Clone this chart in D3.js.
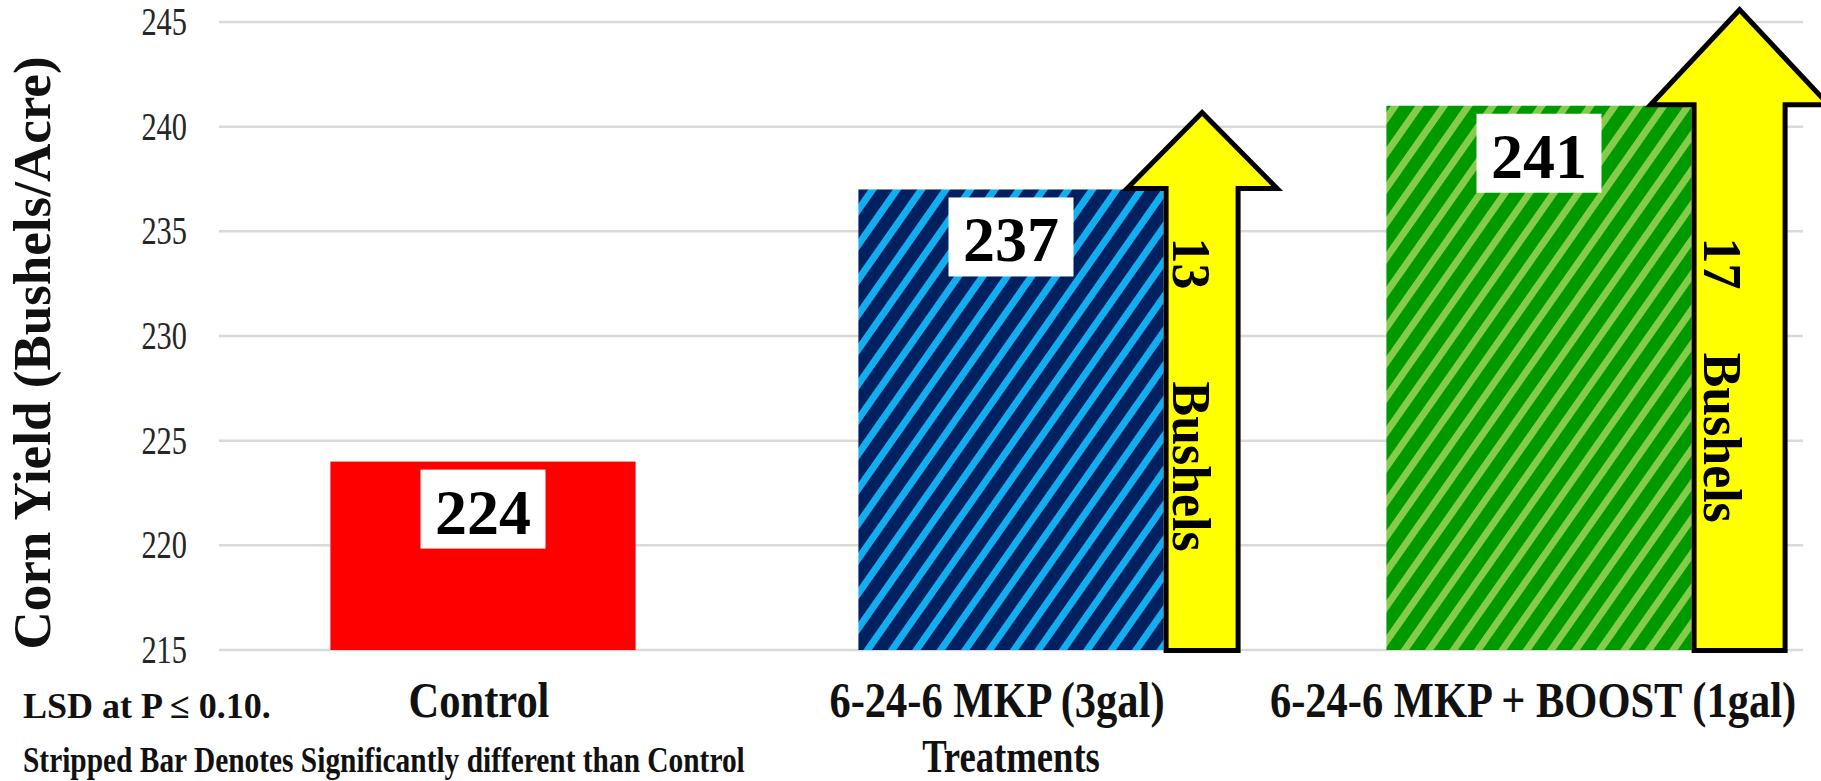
<!DOCTYPE html>
<html lang="en">
<head>
<meta charset="utf-8">
<script src="https://d3js.org/d3.v7.min.js"></script>
<style>
  body { margin: 0; background: #fff; }
  svg { display: block; font-family: "Liberation Serif", "DejaVu Serif", serif; }
</style>
</head>
<body>
<div id="chart"></div>
<script type="text/javascript">
// chart values
var categories = ["Control", "6-24-6 MKP (3gal)", "6-24-6 MKP + BOOST (1gal)"];
var yields = [224, 237, 241];
var striped = [false, true, true];
var gains = [null, 13, 17];
var yTicks = [215, 220, 225, 230, 235, 240, 245];

var W = 1821, H = 781;
var svg = d3.select("#chart").append("svg")
    .attr("width", W).attr("height", H);

svg.append("rect").attr("width", W).attr("height", H).attr("fill", "#fff");

var x = d3.scaleBand()
    .domain(categories)
    .range([219, 1803])
    .paddingInner(0.422)
    .paddingOuter(0.211);

var y = d3.scaleLinear().domain([215, 245]).range([650, 22]);

// narrow, tall serif text like the original (Cambria-ish look)
function label(parent, px, py, str, size, sx, anchor, rot) {
    return parent.append("text")
        .attr("transform", "translate(" + px + "," + py + ")" +
            (rot ? " rotate(" + rot + ")" : "") + " scale(" + sx + ",1)")
        .attr("text-anchor", anchor || "start")
        .style("font-size", size + "px")
        .style("font-weight", "bold")
        .attr("fill", "#111")
        .text(str);
}

// stripe patterns
var defs = svg.append("defs");
function stripes(id, bg, fg) {
    var p = defs.append("pattern")
        .attr("id", id)
        .attr("patternUnits", "userSpaceOnUse")
        .attr("width", 20).attr("height", 20)
        .attr("patternTransform", "rotate(35)");
    p.append("rect").attr("width", 20).attr("height", 20).attr("fill", bg);
    p.append("rect").attr("width", 7).attr("height", 20).attr("fill", fg);
}
stripes("blueStripe", "#002060", "#12aef0");
stripes("greenStripe", "#009a00", "#86cc4a");
var fills = ["#ff0000", "url(#blueStripe)", "url(#greenStripe)"];

// gridlines
svg.append("g").selectAll("line")
    .data(yTicks)
    .enter().append("line")
    .attr("x1", 219).attr("x2", 1803)
    .attr("y1", function (d) { return y(d); })
    .attr("y2", function (d) { return y(d); })
    .attr("stroke", "#d9d9d9")
    .attr("stroke-width", 2.5);

// y tick labels
var tickG = svg.append("g");
yTicks.forEach(function (d) {
    label(tickG, 187, y(d) + 13, d, 40, 0.76, "end")
        .style("font-weight", "normal")
        .attr("fill", "#262626");
});

// bars
svg.append("g").selectAll("rect")
    .data(yields)
    .enter().append("rect")
    .attr("x", function (d, i) { return x(categories[i]); })
    .attr("y", function (d) { return y(d); })
    .attr("width", x.bandwidth())
    .attr("height", function (d) { return y(215) - y(d); })
    .attr("fill", function (d, i) { return fills[i]; });

// yellow arrows next to the striped bars
var arrowStyle = [null,
    { shaft: 77, headHalf: 75, headH: 76, textAt: 234.7, gap: 96, tx: 7 },
    { shaft: 96, headHalf: 89, headH: 95, textAt: 234.7, gap: 66, tx: 10 }];

gains.forEach(function (g, i) {
    if (g === null) return;
    var s = arrowStyle[i];
    var left = x(categories[i]) + x.bandwidth() + 2.5;
    var right = left + s.shaft - 5;
    var cx = (left + right) / 2;
    var base = y(yields[i]) - 1;
    var bottom = y(215) + 0.5;
    var pts = [[left, bottom], [left, base], [cx - s.headHalf, base],
               [cx, base - s.headH], [cx + s.headHalf, base],
               [right, base], [right, bottom]];
    svg.append("path")
        .attr("d", d3.line()(pts) + "Z")
        .attr("fill", "#ffff00")
        .attr("stroke", "#000")
        .attr("stroke-width", 5)
        .attr("stroke-linejoin", "miter");

    var t = label(svg, left + s.tx, y(s.textAt), "", 54, 0.96, "start", 90)
        .attr("fill", "#000");
    t.append("tspan").text(g);
    t.append("tspan").attr("dx", s.gap).text("Bushels");
});

// value labels in white boxes
var lbl = svg.append("g").selectAll("g")
    .data(yields)
    .enter().append("g")
    .attr("transform", function (d, i) {
        return "translate(" + (x(categories[i]) + x.bandwidth() / 2) + "," + (y(d) + 8) + ")";
    });
lbl.append("rect")
    .attr("x", -62.5).attr("width", 125).attr("height", 79)
    .attr("fill", "#fff");
lbl.append("text")
    .attr("y", 64)
    .attr("text-anchor", "middle")
    .style("font-size", "64px")
    .style("font-weight", "bold")
    .attr("fill", "#000")
    .text(function (d) { return d; });

// category labels
var catG = svg.append("g");
var catShift = [-4, -14, -6];
categories.forEach(function (c, i) {
    label(catG, x(c) + x.bandwidth() / 2 + catShift[i], 717, c, 50, 0.85, "middle");
});

// axis titles
label(svg, 1011, 772, "Treatments", 47, 0.78, "middle");
label(svg, 50, y(230) + 17, "Corn Yield (Bushels/Acre)", 52, 1.02, "middle", -90);

// notes
label(svg, 23, 718, "LSD at P \u2264 0.10.", 36, 1.0, "start");
label(svg, 23, 772, "Stripped Bar Denotes Significantly different than Control", 35, 0.84, "start");
</script>
</body>
</html>
